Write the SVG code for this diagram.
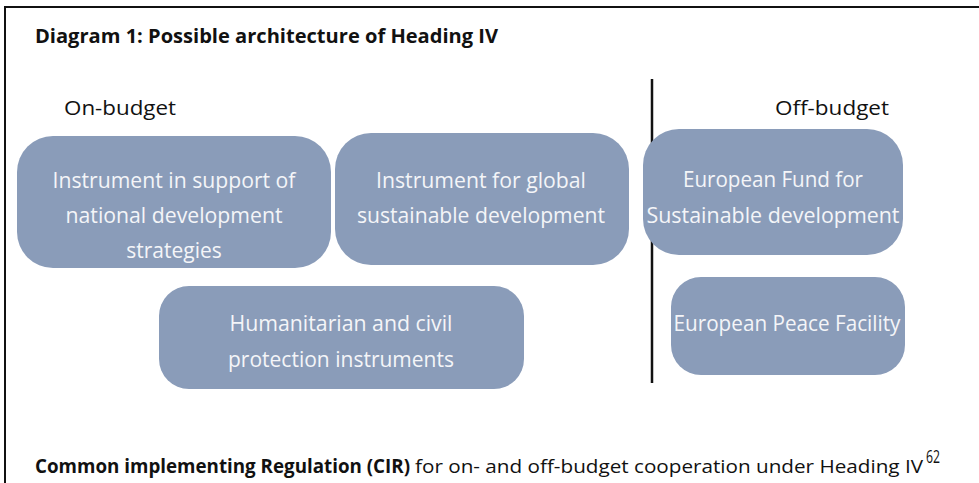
<svg xmlns="http://www.w3.org/2000/svg" width="979" height="483" viewBox="0 0 979 483">
<style>
.box{fill:#8a9cb9;}
.bt{font-family:"Open Sans","Noto Sans",sans-serif;font-size:21px;fill:#f4f5f8;text-anchor:middle;}
.lbl{font-family:"Open Sans","Noto Sans",sans-serif;font-size:20px;fill:#111;}
.ttl{font-family:"Open Sans","Noto Sans",sans-serif;font-size:20px;font-weight:bold;fill:#111;}
.ft{font-family:"Open Sans","Noto Sans",sans-serif;font-size:19px;fill:#111;}
</style>
<rect width="979" height="483" fill="#fff"/>
<g id="frame">
<path d="M5,483 V7 H979" fill="none" stroke="#111" stroke-width="2"/>
</g>
<text class="ttl" x="35" y="43" textLength="463" lengthAdjust="spacingAndGlyphs">Diagram 1: Possible architecture of Heading IV</text>
<text class="lbl" x="64" y="115" textLength="112" lengthAdjust="spacingAndGlyphs">On-budget</text>
<text class="lbl" x="775" y="115" textLength="114" lengthAdjust="spacingAndGlyphs">Off-budget</text>
<g id="connectors">
<line x1="652" y1="79" x2="652" y2="383" stroke="#111" stroke-width="2.5"/>
</g>
<g id="node-national">
<rect class="box" x="17" y="136" width="314" height="132" rx="36"/>
<text class="bt" x="174" y="188" textLength="243" lengthAdjust="spacingAndGlyphs">Instrument in support of</text>
<text class="bt" x="174" y="223" textLength="217" lengthAdjust="spacingAndGlyphs">national development</text>
<text class="bt" x="174" y="258">strategies</text>
</g>
<g id="node-global">
<rect class="box" x="335" y="133" width="294" height="132" rx="36"/>
<text class="bt" x="481" y="188" textLength="210" lengthAdjust="spacingAndGlyphs">Instrument for global</text>
<text class="bt" x="481" y="223" textLength="248" lengthAdjust="spacingAndGlyphs">sustainable development</text>
</g>
<g id="node-efsd">
<rect class="box" x="643" y="129" width="260" height="126" rx="36"/>
<text class="bt" x="773" y="187" textLength="180" lengthAdjust="spacingAndGlyphs">European Fund for</text>
<text class="bt" x="773" y="223" textLength="253" lengthAdjust="spacingAndGlyphs">Sustainable development</text>
</g>
<g id="node-epf">
<rect class="box" x="671" y="277" width="234" height="98" rx="30"/>
<text class="bt" x="787" y="331" textLength="227" lengthAdjust="spacingAndGlyphs">European Peace Facility</text>
</g>
<g id="node-humanitarian">
<rect class="box" x="159" y="286" width="365" height="103" rx="30"/>
<text class="bt" x="341" y="331" textLength="223" lengthAdjust="spacingAndGlyphs">Humanitarian and civil</text>
<text class="bt" x="341" y="367" textLength="226" lengthAdjust="spacingAndGlyphs">protection instruments</text>
</g>
<text class="ft" x="35" y="473" font-weight="bold" textLength="375" lengthAdjust="spacingAndGlyphs">Common implementing Regulation (CIR)</text>
<text class="ft" x="415" y="473" textLength="508" lengthAdjust="spacingAndGlyphs">for on- and off-budget cooperation under Heading IV</text>
<text class="ft" x="926" y="463" font-size="12" textLength="14" lengthAdjust="spacingAndGlyphs">62</text>
</svg>
